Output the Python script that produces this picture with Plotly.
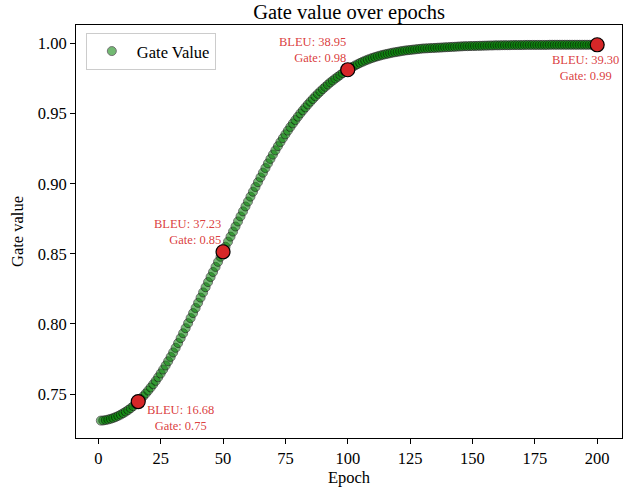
import plotly.graph_objects as go

# ---------------- data ----------------
epochs = list(range(1, 201))
gate_values = [
    0.7311, 0.7312, 0.7315, 0.7319, 0.7324, 0.7330, 0.7337, 0.7345, 0.7354, 0.7364,
    0.7375, 0.7387, 0.7400, 0.7414, 0.7430, 0.7447, 0.7465, 0.7484, 0.7504, 0.7525,
    0.7547, 0.7570, 0.7594, 0.7620, 0.7647, 0.7675, 0.7704, 0.7734, 0.7765, 0.7797,
    0.7830, 0.7864, 0.7899, 0.7934, 0.7970, 0.8006, 0.8042, 0.8078, 0.8114, 0.8151,
    0.8188, 0.8225, 0.8262, 0.8299, 0.8335, 0.8371, 0.8407, 0.8443, 0.8479, 0.8515,
    0.8551, 0.8587, 0.8623, 0.8659, 0.8695, 0.8731, 0.8767, 0.8803, 0.8838, 0.8873,
    0.8908, 0.8943, 0.8977, 0.9011, 0.9045, 0.9079, 0.9112, 0.9145, 0.9177, 0.9208,
    0.9238, 0.9268, 0.9297, 0.9325, 0.9352, 0.9379, 0.9405, 0.9430, 0.9454, 0.9478,
    0.9501, 0.9523, 0.9544, 0.9565, 0.9585, 0.9604, 0.9623, 0.9641, 0.9658, 0.9675,
    0.9691, 0.9707, 0.9722, 0.9736, 0.9750, 0.9763, 0.9776, 0.9789, 0.9801, 0.9813,
    0.9824, 0.9834, 0.9844, 0.9853, 0.9862, 0.9870, 0.9878, 0.9885, 0.9892, 0.9898,
    0.9904, 0.9909, 0.9914, 0.9919, 0.9923, 0.9927, 0.9931, 0.9935, 0.9938, 0.9941,
    0.9944, 0.9947, 0.9950, 0.9952, 0.9954, 0.9956, 0.9958, 0.9960, 0.9962, 0.9964,
    0.9965, 0.9966, 0.9967, 0.9968, 0.9969, 0.9970, 0.9971, 0.9972, 0.9973, 0.9974,
    0.9975, 0.9976, 0.9977, 0.9978, 0.9979, 0.9980, 0.9981, 0.9981, 0.9982, 0.9982,
    0.9983, 0.9983, 0.9984, 0.9984, 0.9985, 0.9985, 0.9986, 0.9986, 0.9987, 0.9987,
    0.9987, 0.9988, 0.9988, 0.9988, 0.9988, 0.9989, 0.9989, 0.9989, 0.9989, 0.9989,
    0.9990, 0.9990, 0.9990, 0.9990, 0.9990, 0.9990, 0.9990, 0.9990, 0.9990, 0.9990,
    0.9991, 0.9991, 0.9991, 0.9991, 0.9991, 0.9991, 0.9991, 0.9991, 0.9991, 0.9991,
    0.9991, 0.9991, 0.9991, 0.9991, 0.9991, 0.9991, 0.9991, 0.9991, 0.9991, 0.9991,
]
highlight_epochs = [16, 50, 100, 200]
bleu_scores = [16.68, 37.23, 38.95, 39.30]
gate_labels = [0.75, 0.85, 0.98, 0.99]
x_ticks = [0, 25, 50, 75, 100, 125, 150, 175, 200]
y_ticks = [0.75, 0.80, 0.85, 0.90, 0.95, 1.00]

# ---------------- styling ----------------
FONT = "Liberation Serif, Times New Roman, serif"
label_styles = [
    dict(xanchor="center", align="center", xshift=42, yshift=-16),
    dict(xanchor="right", align="right", xshift=0, yshift=20),
    dict(xanchor="right", align="right", xshift=0, yshift=20),
    dict(xanchor="center", align="center", xshift=-12, yshift=-23),
]

fig = go.Figure()
fig.add_trace(go.Scatter(
    x=epochs, y=gate_values, mode="markers", name="Gate Value",
    marker=dict(size=9, color="green", opacity=0.55,
                line=dict(color="black", width=1)),
))

hl_vals = [gate_values[epochs.index(e)] for e in highlight_epochs]
fig.add_trace(go.Scatter(
    x=highlight_epochs, y=hl_vals, mode="markers", showlegend=False,
    marker=dict(size=14, color="#d62728", line=dict(color="black", width=1.2)),
))

for e, v, b, g, st in zip(highlight_epochs, hl_vals, bleu_scores, gate_labels, label_styles):
    fig.add_annotation(
        x=e, y=v, xref="x", yref="y", showarrow=False,
        text=f"BLEU: {b:.2f}<br>Gate: {g:.2f}",
        font=dict(family=FONT, size=12.5, color="rgba(214,39,40,0.9)"),
        yanchor="middle", **st,
    )

axis_common = dict(
    showline=True, linecolor="black", linewidth=1, mirror=True,
    ticks="outside", ticklen=5, tickwidth=1, tickcolor="black",
    showgrid=False, zeroline=False,
    tickfont=dict(family=FONT, size=16.5, color="black"),
)

fig.update_layout(
    width=629, height=489,
    margin=dict(l=76, r=7, t=25, b=51),
    paper_bgcolor="white", plot_bgcolor="white",
    title=dict(text="Gate value over epochs", x=0.555, xanchor="center",
               y=0.976, yanchor="middle", yref="container",
               font=dict(family=FONT, size=20.5, color="black")),
    xaxis=dict(range=[-8.95, 209.95], tickvals=x_ticks,
               title=dict(text="Epoch", standoff=4,
                          font=dict(family=FONT, size=16.5, color="black")),
               **axis_common),
    yaxis=dict(range=[0.7187, 1.0132], tickvals=y_ticks, tickformat=".2f",
               title=dict(text="Gate value", standoff=10,
                          font=dict(family=FONT, size=16.5, color="black")),
               **axis_common),
    legend=dict(x=0.018, y=0.981, xanchor="left", yanchor="top",
                bgcolor="white", bordercolor="#cccccc", borderwidth=1,
                itemwidth=40,
                font=dict(family=FONT, size=16.5, color="black")),
    showlegend=True,
)

fig.write_html(
    "out.html",
    config={"displayModeBar": False},
    post_script="document.body.style.margin='0px';document.body.style.overflow='hidden';",
)
